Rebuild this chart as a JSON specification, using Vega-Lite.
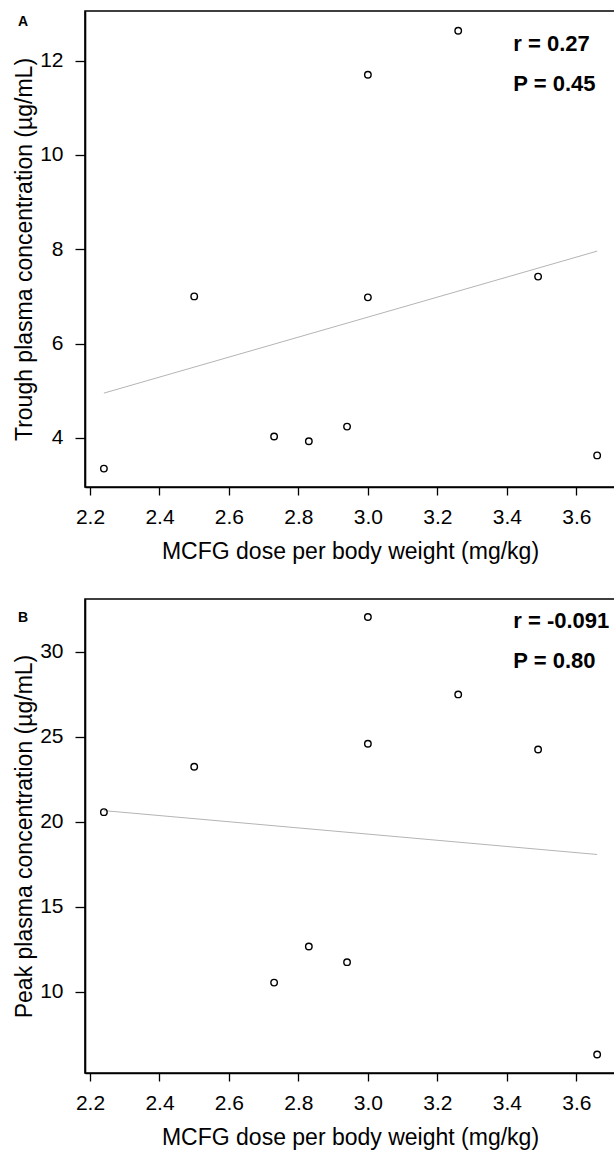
{
  "$schema": "https://vega.github.io/schema/vega-lite/v6.json",
  "padding": {"left": 12, "top": 10, "right": 0, "bottom": 0},
  "background": "white",
  "spacing": 112,
  "bounds": "flush",
  "config": {
    "font": "Liberation Sans",
    "view": {"stroke": "black", "strokeWidth": 1.6},
    "axis": {
      "grid": false,
      "domainColor": "black",
      "domainWidth": 1.6,
      "tickColor": "black",
      "tickWidth": 1.3,
      "labelColor": "black",
      "titleColor": "black",
      "labelFont": "Liberation Sans",
      "titleFont": "Liberation Sans",
      "labelFontSize": 21,
      "titleFontSize": 23,
      "titleFontWeight": "normal"
    },
    "axisX": {"tickSize": 8, "labelPadding": 11, "titlePadding": 13},
    "axisY": {"tickSize": 10, "labelPadding": 12, "titlePadding": 3}
  },
  "vconcat": [
    {
      "width": 530,
      "height": 476,
      "encoding": {
        "x": {
          "field": "dose",
          "type": "quantitative",
          "scale": {"domain": [2.1856, 3.7114], "nice": false, "zero": false},
          "axis": {"values": [2.2, 2.4, 2.6, 2.8, 3.0, 3.2, 3.4, 3.6], "format": ".1f", "title": "MCFG dose per body weight (mg/kg)"}
        },
        "y": {
          "field": "conc",
          "type": "quantitative",
          "scale": {"domain": [2.96, 13.05], "nice": false, "zero": false},
          "axis": {"values": [4, 6, 8, 10, 12], "title": "Trough plasma concentration (µg/mL)"}
        }
      },
      "layer": [
        {
          "data": {"values": [
            {"dose": 2.24, "conc": 4.95},
            {"dose": 3.66, "conc": 7.96}
          ]},
          "mark": {"type": "line", "color": "#ababab", "strokeWidth": 0.9}
        },
        {
          "data": {"values": [
            {"dose": 2.24, "conc": 3.35},
            {"dose": 2.50, "conc": 7.00},
            {"dose": 2.73, "conc": 4.03},
            {"dose": 2.83, "conc": 3.93},
            {"dose": 2.94, "conc": 4.24},
            {"dose": 3.00, "conc": 11.70},
            {"dose": 3.00, "conc": 6.98},
            {"dose": 3.26, "conc": 12.63},
            {"dose": 3.49, "conc": 7.42},
            {"dose": 3.66, "conc": 3.63}
          ]},
          "mark": {"type": "point", "shape": "circle", "filled": false, "color": "black", "size": 42, "strokeWidth": 1.4, "opacity": 1}
        },
        {
          "data": {"values": [
            {"dose": 3.4186, "conc": 12.195, "label": "r = 0.27"},
            {"dose": 3.4186, "conc": 11.364, "label": "P = 0.45"}
          ]},
          "mark": {"type": "text", "align": "left", "baseline": "alphabetic", "fontWeight": "bold", "fontSize": 22, "color": "black"},
          "encoding": {"text": {"field": "label"}}
        },
        {
          "data": {"values": [
            {"dose": 1.993, "conc": 12.727, "label": "A"}
          ]},
          "mark": {"type": "text", "align": "left", "baseline": "alphabetic", "fontWeight": "bold", "fontSize": 14, "color": "black"},
          "encoding": {"text": {"field": "label"}}
        }
      ]
    },
    {
      "width": 530,
      "height": 474,
      "encoding": {
        "x": {
          "field": "dose",
          "type": "quantitative",
          "scale": {"domain": [2.1856, 3.7114], "nice": false, "zero": false},
          "axis": {"values": [2.2, 2.4, 2.6, 2.8, 3.0, 3.2, 3.4, 3.6], "format": ".1f", "title": "MCFG dose per body weight (mg/kg)"}
        },
        "y": {
          "field": "conc",
          "type": "quantitative",
          "scale": {"domain": [5.235, 33.1], "nice": false, "zero": false},
          "axis": {"values": [10, 15, 20, 25, 30], "title": "Peak plasma concentration (µg/mL)"}
        }
      },
      "layer": [
        {
          "data": {"values": [
            {"dose": 2.24, "conc": 20.66},
            {"dose": 3.66, "conc": 18.08}
          ]},
          "mark": {"type": "line", "color": "#ababab", "strokeWidth": 0.9}
        },
        {
          "data": {"values": [
            {"dose": 2.24, "conc": 20.57},
            {"dose": 2.50, "conc": 23.24},
            {"dose": 2.73, "conc": 10.55},
            {"dose": 2.83, "conc": 12.67},
            {"dose": 2.94, "conc": 11.75},
            {"dose": 3.00, "conc": 32.04},
            {"dose": 3.00, "conc": 24.59},
            {"dose": 3.26, "conc": 27.49},
            {"dose": 3.49, "conc": 24.25},
            {"dose": 3.66, "conc": 6.32}
          ]},
          "mark": {"type": "point", "shape": "circle", "filled": false, "color": "black", "size": 42, "strokeWidth": 1.4, "opacity": 1}
        },
        {
          "data": {"values": [
            {"dose": 3.4186, "conc": 31.41, "label": "r = -0.091"},
            {"dose": 3.4186, "conc": 29.06, "label": "P = 0.80"}
          ]},
          "mark": {"type": "text", "align": "left", "baseline": "alphabetic", "fontWeight": "bold", "fontSize": 22, "color": "black"},
          "encoding": {"text": {"field": "label"}}
        },
        {
          "data": {"values": [
            {"dose": 1.993, "conc": 31.75, "label": "B"}
          ]},
          "mark": {"type": "text", "align": "left", "baseline": "alphabetic", "fontWeight": "bold", "fontSize": 14, "color": "black"},
          "encoding": {"text": {"field": "label"}}
        }
      ]
    }
  ]
}
